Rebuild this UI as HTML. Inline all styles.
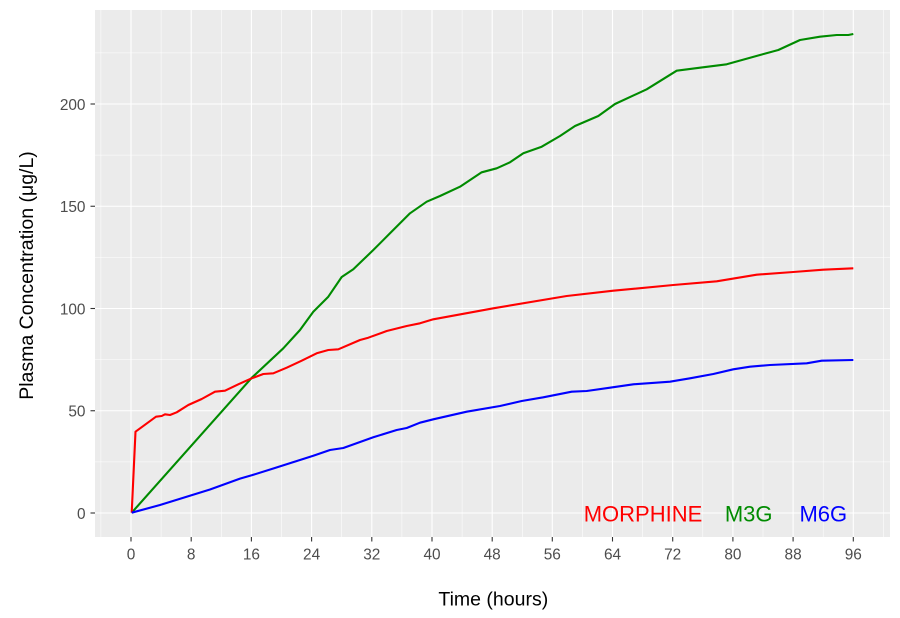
<!DOCTYPE html>
<html><head><meta charset="utf-8"><style>
html,body{margin:0;padding:0;background:#fff;}
svg{display:block;}
text{font-family:"Liberation Sans",Arial,sans-serif;}
</style></head><body>
<svg width="900" height="618" viewBox="0 0 900 618" xmlns="http://www.w3.org/2000/svg">
<rect x="0" y="0" width="900" height="618" fill="#fff"/>
<rect x="95" y="10" width="795" height="527" fill="#ebebeb"/>
<g stroke="#fff" stroke-width="0.55" fill="none">
<line x1="95" x2="890" y1="461.9" y2="461.9"/>
<line x1="95" x2="890" y1="359.6" y2="359.6"/>
<line x1="95" x2="890" y1="257.4" y2="257.4"/>
<line x1="95" x2="890" y1="155.1" y2="155.1"/>
<line x1="95" x2="890" y1="52.9" y2="52.9"/>
<line y1="10" y2="537" x1="100.9" x2="100.9"/>
<line y1="10" y2="537" x1="161.1" x2="161.1"/>
<line y1="10" y2="537" x1="221.3" x2="221.3"/>
<line y1="10" y2="537" x1="281.5" x2="281.5"/>
<line y1="10" y2="537" x1="341.7" x2="341.7"/>
<line y1="10" y2="537" x1="401.9" x2="401.9"/>
<line y1="10" y2="537" x1="462.1" x2="462.1"/>
<line y1="10" y2="537" x1="522.3" x2="522.3"/>
<line y1="10" y2="537" x1="582.4" x2="582.4"/>
<line y1="10" y2="537" x1="642.6" x2="642.6"/>
<line y1="10" y2="537" x1="702.8" x2="702.8"/>
<line y1="10" y2="537" x1="763.0" x2="763.0"/>
<line y1="10" y2="537" x1="823.2" x2="823.2"/>
<line y1="10" y2="537" x1="883.4" x2="883.4"/>
</g>
<g stroke="#fff" stroke-width="1.1" fill="none">
<line x1="95" x2="890" y1="513" y2="513"/>
<line x1="95" x2="890" y1="410.75" y2="410.75"/>
<line x1="95" x2="890" y1="308.5" y2="308.5"/>
<line x1="95" x2="890" y1="206.25" y2="206.25"/>
<line x1="95" x2="890" y1="104" y2="104"/>
<line y1="10" y2="537" x1="131" x2="131"/>
<line y1="10" y2="537" x1="191.2" x2="191.2"/>
<line y1="10" y2="537" x1="251.4" x2="251.4"/>
<line y1="10" y2="537" x1="311.6" x2="311.6"/>
<line y1="10" y2="537" x1="371.8" x2="371.8"/>
<line y1="10" y2="537" x1="432.0" x2="432.0"/>
<line y1="10" y2="537" x1="492.2" x2="492.2"/>
<line y1="10" y2="537" x1="552.3" x2="552.3"/>
<line y1="10" y2="537" x1="612.5" x2="612.5"/>
<line y1="10" y2="537" x1="672.7" x2="672.7"/>
<line y1="10" y2="537" x1="732.9" x2="732.9"/>
<line y1="10" y2="537" x1="793.1" x2="793.1"/>
<line y1="10" y2="537" x1="853.3" x2="853.3"/>
</g>
<g fill="none" stroke-width="2.1" stroke-linejoin="round" stroke-linecap="butt">
<path stroke="#00ff00" d="" />
<path stroke="#008b00" stroke="green" d="M131.7,512.7 L252,377.5 L283.3,348.3 L300,330 L313.3,311.7 L328.3,296.7 L341.7,277 L353.3,269.3 L373.3,250 L390,233.3 L410,213.3 L426.7,201.7 L440,196 L460,186.7 L481.7,172.3 L496.7,168.3 L510,162.3 L523.3,153.3 L541.7,146.7 L560,136 L575,126 L598.3,116 L615,104 L646.7,89.3 L676.7,70.7 L700,67.7 L726.7,64.3 L760,55 L778.3,50 L800,40 L820,36.7 L836.7,35 L848.3,35 L853.3,34"/>
<path stroke="#ff0000" d="M131.7,512.7 L135.5,431.7 L156,416.7 L161.7,416 L165,414.3 L170,415 L176.7,412.3 L188.3,405 L201.7,399 L215,391.7 L225,390.7 L238.3,384.3 L251.7,378.3 L263.3,374 L273.3,373.3 L286.7,367.7 L301.7,360.7 L316.7,353.3 L328.3,350 L338.3,349.3 L360,340 L368.3,337.7 L386.7,331 L406.7,326 L420,323.3 L433.3,319.3 L493.3,308.3 L566.7,296 L613.3,290.7 L673.3,285 L716.7,281.3 L756.7,274.7 L793.3,272 L823.3,269.7 L853.3,268.3"/>
<path stroke="#0000ff" d="M131.7,512.7 L160,505 L210,489.5 L240,478.6 L251.7,475.3 L273.3,468.5 L313.3,455.8 L330,450 L343.3,448 L373.3,437.3 L396.7,430 L406.7,428 L420,422.7 L433.3,419.3 L466.7,411.7 L500,406 L521.7,401 L543.3,397.3 L571.7,391.7 L586.7,391 L610,387.7 L633.3,384.3 L670,381.7 L690,378.3 L713.3,374 L733.3,369.3 L750,366.7 L770,365 L806.7,363.3 L821.7,360.7 L853.3,360"/>
</g>
<g font-size="22" text-anchor="middle">
<text x="643" y="521.5" fill="#ff0000">MORPHINE</text>
<text x="748.7" y="521.5" fill="#008b00">M3G</text>
<text x="823.3" y="521.5" fill="#0000ff">M6G</text>
</g>
<g stroke="#333" stroke-width="1.1">
<line x1="90.5" x2="95" y1="513" y2="513"/>
<line x1="90.5" x2="95" y1="410.75" y2="410.75"/>
<line x1="90.5" x2="95" y1="308.5" y2="308.5"/>
<line x1="90.5" x2="95" y1="206.25" y2="206.25"/>
<line x1="90.5" x2="95" y1="104" y2="104"/>
<line y1="537" y2="541.5" x1="131" x2="131"/>
<line y1="537" y2="541.5" x1="191.2" x2="191.2"/>
<line y1="537" y2="541.5" x1="251.4" x2="251.4"/>
<line y1="537" y2="541.5" x1="311.6" x2="311.6"/>
<line y1="537" y2="541.5" x1="371.8" x2="371.8"/>
<line y1="537" y2="541.5" x1="432.0" x2="432.0"/>
<line y1="537" y2="541.5" x1="492.2" x2="492.2"/>
<line y1="537" y2="541.5" x1="552.3" x2="552.3"/>
<line y1="537" y2="541.5" x1="612.5" x2="612.5"/>
<line y1="537" y2="541.5" x1="672.7" x2="672.7"/>
<line y1="537" y2="541.5" x1="732.9" x2="732.9"/>
<line y1="537" y2="541.5" x1="793.1" x2="793.1"/>
<line y1="537" y2="541.5" x1="853.3" x2="853.3"/>
</g>
<g font-size="15.4" fill="#4d4d4d" text-anchor="end">
<text x="85.5" y="518.8">0</text>
<text x="85.5" y="416.5">50</text>
<text x="85.5" y="314.3">100</text>
<text x="85.5" y="212">150</text>
<text x="85.5" y="109.8">200</text>
</g>
<g font-size="15.4" fill="#4d4d4d" text-anchor="middle">
<text x="131" y="559.3">0</text>
<text x="191.2" y="559.3">8</text>
<text x="251.4" y="559.3">16</text>
<text x="311.6" y="559.3">24</text>
<text x="371.8" y="559.3">32</text>
<text x="432.0" y="559.3">40</text>
<text x="492.2" y="559.3">48</text>
<text x="552.3" y="559.3">56</text>
<text x="612.5" y="559.3">64</text>
<text x="672.7" y="559.3">72</text>
<text x="732.9" y="559.3">80</text>
<text x="793.1" y="559.3">88</text>
<text x="853.3" y="559.3">96</text>
</g>
<text x="493.3" y="605.5" font-size="19.5" text-anchor="middle" fill="#000">Time (hours)</text>
<text transform="translate(33,275.5) rotate(-90)" x="0" y="0" font-size="19.5" text-anchor="middle" fill="#000">Plasma Concentration (μg/L)</text>
</svg>
</body></html>
